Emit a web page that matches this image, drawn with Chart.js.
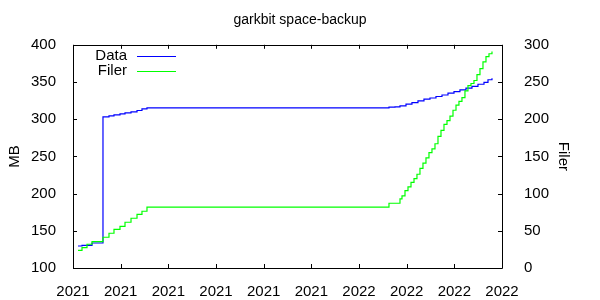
<!DOCTYPE html>
<html>
<head>
<meta charset="utf-8">
<script src="https://cdn.jsdelivr.net/npm/chart.js@4"></script>
<style>
  body { margin: 0; background: #fff; }
  #box { width: 600px; height: 300px; }
</style>
</head>
<body>
<div id="box"><canvas id="grafico"></canvas></div>
<script>
"use strict"

// etichette asse x (una per tacca)
const xLabels = ["2021", "2021", "2021", "2021", "2021", "2021", "2022", "2022", "2022", "2022"];

// serie Data: posizioni (unita' di tacca x) e valori MB, asse sinistro
const dataX = [0.105, 0.189, 0.294, 0.399, 0.629, 0.755, 0.860, 0.986, 1.091, 1.217, 1.343, 1.447, 1.552,
    6.629, 6.755, 6.860, 6.986, 7.111, 7.237, 7.363, 7.489, 7.615, 7.741, 7.867, 7.993, 8.118, 8.244,
    8.370, 8.496, 8.622, 8.706, 8.790];
const dataMB = [129.6, 130.5, 130.5, 133.6, 303, 304.5, 305.8, 307.2, 308.5, 309.9, 311.7, 314, 315.3,
    316.2, 316.5, 318, 320.2, 322.4, 324.7, 327, 328.5, 330.5, 332.5, 335, 337, 339.5, 341.7,
    344, 347, 349.5, 353, 355.2];

// serie Filer: posizioni e valori, asse destro
const filerX = [0.105, 0.189, 0.294, 0.399, 0.629, 0.755, 0.860, 0.986, 1.091, 1.217, 1.343, 1.447, 1.552,
    6.629, 6.860, 6.902, 6.965, 7.028, 7.091, 7.154, 7.216, 7.279, 7.342, 7.405, 7.468, 7.531, 7.594,
    7.657, 7.720, 7.783, 7.846, 7.909, 7.972, 8.035, 8.097, 8.160, 8.223, 8.286, 8.349, 8.412, 8.475,
    8.538, 8.601, 8.664, 8.727, 8.790];
const filerVals = [23.8, 27.3, 31.9, 35.4, 41.3, 46.7, 52, 56, 61.5, 66.9, 72.2, 76.3, 81.7,
    87, 93, 97, 104, 109, 115, 120, 126, 134, 141, 148, 155, 160, 167,
    177, 185, 193, 198, 204, 212, 219, 224, 229, 238, 245, 248, 252, 260,
    268, 277, 284, 288, 291];

const font = "'Liberation Sans', Arial, sans-serif";

// cornice e tacche interne, stile gnuplot, piu' la legenda
const cornice = {
    id: "cornice",
    afterDraw(chart) {
        const ctx = chart.ctx;
        const a = chart.chartArea;
        const sx = chart.scales.x, sy = chart.scales.y, sy2 = chart.scales.y2;
        const t = 4;
        ctx.save();
        ctx.strokeStyle = "#000";
        ctx.lineWidth = 1;
        ctx.beginPath();
        ctx.rect(Math.round(a.left) + 0.5, Math.round(a.top) + 0.5,
            Math.round(a.right - a.left), Math.round(a.bottom - a.top));
        sx.ticks.forEach(function (tk) {
            let px = Math.round(sx.getPixelForValue(tk.value)) + 0.5;
            ctx.moveTo(px, a.bottom); ctx.lineTo(px, a.bottom - t);
            ctx.moveTo(px, a.top); ctx.lineTo(px, a.top + t);
        });
        sy.ticks.forEach(function (tk) {
            let py = Math.round(sy.getPixelForValue(tk.value)) + 0.5;
            ctx.moveTo(a.left, py); ctx.lineTo(a.left + t, py);
        });
        sy2.ticks.forEach(function (tk) {
            let py = Math.round(sy2.getPixelForValue(tk.value)) + 0.5;
            ctx.moveTo(a.right, py); ctx.lineTo(a.right - t, py);
        });
        ctx.stroke();

        // legenda
        ctx.font = "15px " + font;
        ctx.textAlign = "right";
        ctx.textBaseline = "middle";
        chart.data.datasets.forEach(function (ds, i) {
            let y = a.top + 11 + i * 15.5;
            ctx.fillStyle = "#000";
            ctx.fillText(ds.label, a.left + 54, y);
            ctx.strokeStyle = ds.borderColor;
            ctx.lineWidth = 1.2;
            ctx.beginPath();
            ctx.moveTo(a.left + 64, Math.round(y) + 0.5);
            ctx.lineTo(a.left + 103, Math.round(y) + 0.5);
            ctx.stroke();
        });
        ctx.restore();
    }
};

function punti(xs, valori) {
    return xs.map(function (x, i) { return { x: x, y: valori[i] }; });
}

new Chart(document.getElementById("grafico"), {
    type: "line",
    data: {
        datasets: [{
            label: "Data",
            data: punti(dataX, dataMB),
            yAxisID: "y",
            borderColor: "#0000ff",
            borderWidth: 1.2,
            pointRadius: 0,
            stepped: true,
            order: 2
        },
        {
            label: "Filer",
            data: punti(filerX, filerVals),
            yAxisID: "y2",
            borderColor: "#00ff00",
            borderWidth: 1.2,
            pointRadius: 0,
            stepped: true,
            order: 1
        }]
    },
    options: {
        responsive: true,
        maintainAspectRatio: false,
        animation: false,
        layout: { padding: 0 },
        plugins: {
            legend: { display: false },
            tooltip: { enabled: false },
            title: {
                display: true,
                text: "garkbit space-backup",
                color: "#000",
                font: { family: font, size: 14, weight: "normal" },
                padding: { top: 12, bottom: 16 }
            }
        },
        scales: {
            x: {
                type: "linear",
                min: 0,
                max: 9,
                grid: { display: false },
                border: { display: false },
                ticks: {
                    stepSize: 1,
                    autoSkip: false,
                    maxRotation: 0,
                    padding: 7,
                    color: "#000",
                    font: { family: font, size: 15 },
                    callback: function (v) { return xLabels[v]; }
                },
                afterFit: function (s) { s.height = 32; }
            },
            y: {
                position: "left",
                min: 100,
                max: 400,
                grid: { display: false },
                border: { display: false },
                ticks: { stepSize: 50, padding: 9, color: "#000", font: { family: font, size: 15 } },
                title: { display: true, text: "MB", color: "#000", font: { family: font, size: 15 }, padding: { top: 6 } },
                afterFit: function (s) { s.width = 73; }
            },
            y2: {
                position: "right",
                min: 0,
                max: 300,
                grid: { display: false },
                border: { display: false },
                ticks: { stepSize: 50, padding: 14, color: "#000", font: { family: font, size: 15 } },
                title: { display: true, text: "Filer", color: "#000", font: { family: font, size: 15 }, padding: { top: 28 } },
                afterFit: function (s) { s.width = 98; }
            }
        }
    },
    plugins: [cornice]
});
</script>
</body>
</html>
